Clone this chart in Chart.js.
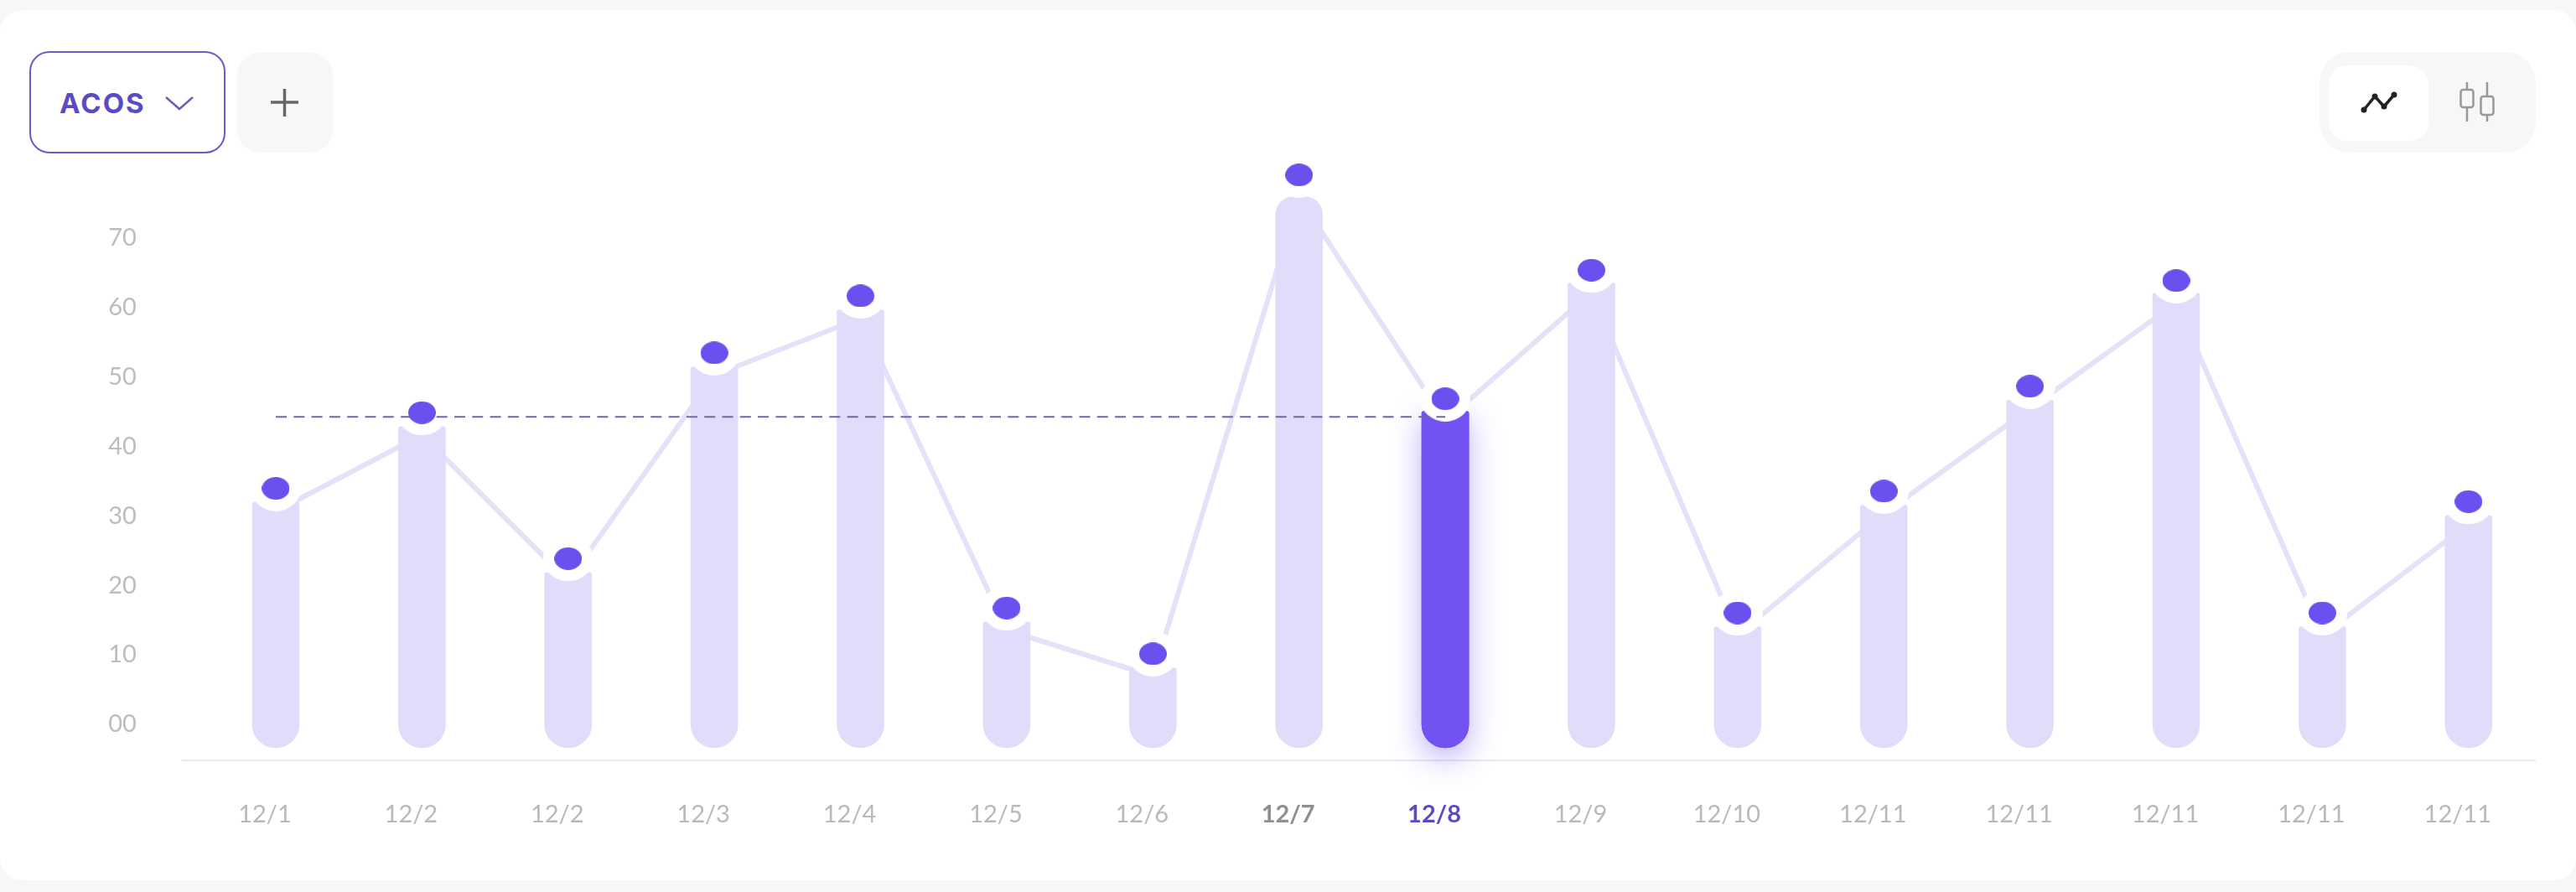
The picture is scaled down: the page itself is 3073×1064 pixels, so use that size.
<!DOCTYPE html>
<html>
<head>
<meta charset="utf-8">
<style>
html,body{margin:0;padding:0;width:3073px;height:1064px;overflow:hidden;background:#f7f7f7}
#root{position:absolute;left:0;top:0;width:3073px;height:1064px;filter:blur(.7px)}
#card{position:absolute;left:0;top:12px;width:3073px;height:1038px;background:#fff;border-radius:26px}
canvas{position:absolute;left:0;top:0}
.box{position:absolute;box-sizing:border-box}
#acos{left:35px;top:61px;width:234px;height:122px;border:2px solid #6a5cc9;border-radius:24px}
#acosText{position:absolute;left:71px;top:103px;font:700 33px/40px Inter,sans-serif;letter-spacing:2px;color:#5a4bc2}
#plus{left:283px;top:62px;width:114px;height:120px;background:#f7f7f7;border-radius:28px}
#toggle{left:2767px;top:62px;width:258px;height:120px;background:#f7f7f7;border-radius:36px}
#toggleOn{left:2778px;top:78px;width:119px;height:90px;background:#fff;border-radius:22px}
svg{position:absolute;left:0;top:0}
</style>
</head>
<body>
<div id="root">
<div id="card"></div>
<div class="box" id="acos"></div>
<div id="acosText">ACOS</div>
<div class="box" id="plus"></div>
<div class="box" id="toggle"></div>
<div class="box" id="toggleOn"></div>
<svg width="3073" height="1064" fill="none">
  <path d="M198 116L214 130L230 116" stroke="#6a5ec4" stroke-width="2.5"/>
  <path d="M323 122H356M339.500 106V139" stroke="#666" stroke-width="3.5"/>
  <path d="M2820 131L2833 115L2844 127L2856 113" stroke="#222" stroke-width="3.500"/>
  <g fill="#222"><circle cx="2820" cy="131" r="3.500"/><circle cx="2833" cy="115" r="3.500"/><circle cx="2844" cy="127" r="3.500"/><circle cx="2856" cy="113" r="3.500"/></g>
  <g stroke="#999" stroke-width="2.500">
    <path d="M2943 98V107M2943 128V145M2967 98V115M2967 137V145"/>
    <rect x="2935.500" y="107" width="15" height="21" rx="3"/>
    <rect x="2959.500" y="115" width="15" height="22" rx="3"/>
  </g>
</svg>
<canvas id="c" width="3073" height="1064"></canvas>
</div>
<script src="https://cdn.jsdelivr.net/npm/chart.js@4"></script>
<script>
const categories = ['12/1','12/2','12/2','12/3','12/4','12/5','12/6','12/7','12/8','12/9','12/10','12/11','12/11','12/11','12/11','12/11'];
const barValues  = [31.7,42.6,21.6,51.2,59.4,14.5,7.9,75.7,44.8,63.3,13.8,31.3,46.4,61.8,13.8,29.8];
const lineValues = [30.4,41.4,20.4,50.0,58.2,13.3,6.7,75.6,43.4,61.9,12.6,30.1,45.2,60.4,12.6,28.6];
const dotValues  = [33.7,44.6,23.6,53.2,61.4,16.5,9.9,78.8,46.6,65.1,15.8,33.3,48.4,63.6,15.8,31.8];
const averageValues = [44,44,44,44,44,44,44,44,44,null,null,null,null,null,null,null];
const yTickValues = [0,10,20,30,40,50,60,70];
const yTickLabels = ['00','10','20','30','40','50','60','70'];
const activeIndex = 8;
const emphasisIndex = 7;
const barFloor = -3.62;

function ellipseSprite(w, h, color) {
  const s = document.createElement('canvas');
  s.width = w; s.height = h;
  const g = s.getContext('2d');
  g.fillStyle = color;
  g.beginPath();
  g.ellipse(w/2, h/2, w/2, h/2, 0, 0, Math.PI*2);
  g.fill();
  return s;
}
const dotSprite = ellipseSprite(33, 27, '#6b50f0');
const haloSprite = ellipseSprite(60, 54, '#ffffff');

const glowPlugin = {
  id: 'glow',
  beforeDatasetDraw(chart, args) {
    if (args.index !== 0) return;
    const ctx = chart.ctx;
    ctx.save();
    ctx.shadowColor = 'rgba(105,80,240,.45)';
    ctx.shadowBlur = 36;
    ctx.shadowOffsetY = 12;
    args.meta.data[activeIndex].draw(ctx);
    ctx.restore();
  }
};
const baselinePlugin = {
  id: 'baseline',
  beforeDatasetsDraw(chart) {
    const a = chart.chartArea, ctx = chart.ctx;
    ctx.save();
    ctx.strokeStyle = '#e9e9ec';
    ctx.lineWidth = 2;
    ctx.beginPath();
    ctx.moveTo(a.left - 25, a.bottom);
    ctx.lineTo(a.right - 7, a.bottom);
    ctx.stroke();
    ctx.restore();
  }
};

new Chart(document.getElementById('c'), {
  data: {
    labels: categories,
    datasets: [
      { type:'bar', label:'bars', data:barValues, order:4, base:barFloor, barThickness:56,
        backgroundColor:(c)=>c.dataIndex===activeIndex?'#7352f2':'#e1dcfa',
        borderSkipped:false,
        borderRadius:(c)=>{const t=c.dataIndex===emphasisIndex?22:3;return {topLeft:t,topRight:t,bottomLeft:28,bottomRight:28};} },
      { type:'line', label:'trend', data:lineValues, order:5, borderColor:'#e5e1f9', borderWidth:6, pointRadius:0, tension:0, fill:false },
      { type:'line', label:'halo', data:dotValues, order:3, showLine:false, pointStyle:haloSprite, pointRadius:27 },
      { type:'line', label:'average', data:averageValues, order:2, borderColor:'#6f689e', borderWidth:2, borderDash:[13,8.300], pointRadius:0, spanGaps:false, fill:false },
      { type:'line', label:'dots', data:dotValues, order:1, showLine:false, pointStyle:dotSprite, pointRadius:14 }
    ]
  },
  options: {
    responsive:false, animation:false, devicePixelRatio:1,
    layout:{ padding:{ left:0, right:41, top:99.3, bottom:0 } },
    plugins:{ legend:{display:false}, tooltip:{enabled:false} },
    scales:{
      x:{ type:'category', offset:true, grid:{display:false,drawTicks:false}, border:{display:false},
          afterFit(s){ s.height = 157; },
          ticks:{ autoSkip:false, maxRotation:0, minRotation:0, padding:47, labelOffset:-13,
            color:(c)=>c.index===activeIndex?'#5a4bc2':(c.index===emphasisIndex?'#8f8f8f':'#b9b9b9'),
            font:(c)=>({family:'Lato',size:29,weight:(c.index===activeIndex||c.index===emphasisIndex)?'700':'400'}) } },
      y:{ type:'linear', min:-5.43, max:92, grid:{display:false,drawTicks:false}, border:{display:false},
          afterFit(s){ s.width = 241.8; },
          afterBuildTicks(s){ s.ticks = yTickValues.map(v=>({value:v})); },
          ticks:{ padding:79, labelOffset:2, color:'#bdbdbd', font:{family:'Lato',size:29}, callback:(v,i)=>yTickLabels[i] } }
    }
  },
  plugins:[glowPlugin, baselinePlugin]
});
</script>
</body>
</html>
